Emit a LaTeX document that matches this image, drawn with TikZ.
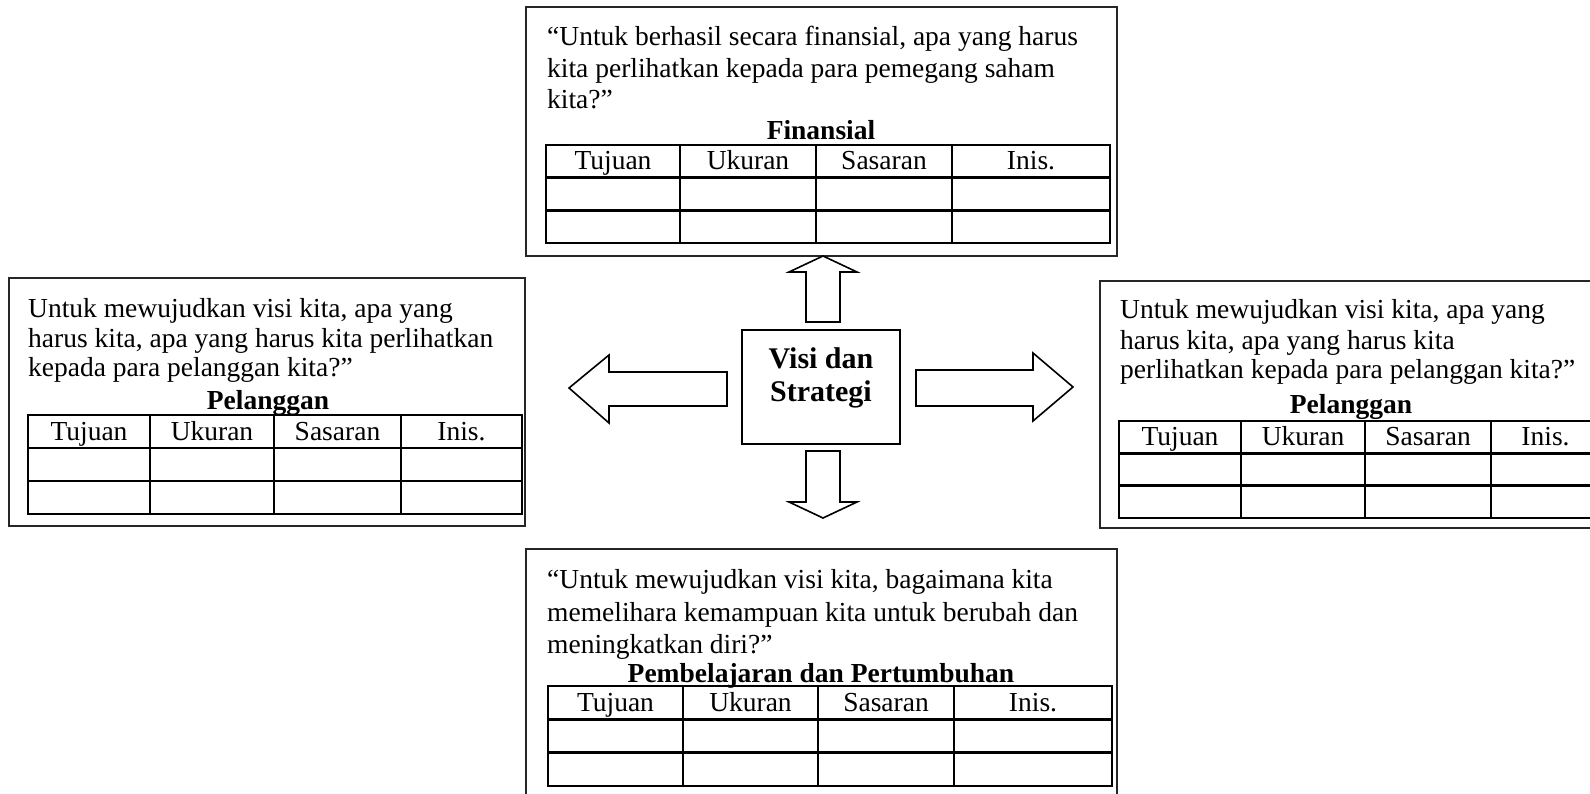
\documentclass[tikz,border=0pt]{standalone}
\usepackage{fontspec}
\setmainfont{Liberation Serif}
\begin{document}
\begin{tikzpicture}[x=1pt,y=-1pt,
  frame/.style={draw=black!85,line width=2pt},
  grid/.style={draw=black,line width=2.4pt},
  txt/.style={inner sep=0pt,anchor=base west,font=\fontsize{27.5}{32}\selectfont},
  ttl/.style={inner sep=0pt,anchor=base,font=\bfseries\fontsize{27.5}{32}\selectfont},
  cell/.style={inner sep=0pt,anchor=base,font=\fontsize{27.5}{32}\selectfont},
  blk/.style={draw=black,line width=1.6pt,fill=white,line join=miter}]
\useasboundingbox (0,0) rectangle (1590,794);

% table: prefix, left, col1, col2, col3, right, top, row height
\newcommand\mktable[8]{%
  \draw[grid] (#2,#7) rectangle (#6,{#7+3*#8});
  \draw[grid] (#2,{#7+#8}) -- (#6,{#7+#8}) (#2,{#7+2*#8}) -- (#6,{#7+2*#8});
  \draw[grid] (#3,#7) -- (#3,{#7+3*#8}) (#4,#7) -- (#4,{#7+3*#8}) (#5,#7) -- (#5,{#7+3*#8});
  \node[cell] (#1-t) at ({(#2+#3)/2},{#7+0.76*#8}) {Tujuan};
  \node[cell] (#1-u) at ({(#3+#4)/2},{#7+0.76*#8}) {Ukuran};
  \node[cell] (#1-s) at ({(#4+#5)/2},{#7+0.76*#8}) {Sasaran};
  \node[cell] (#1-i) at ({(#5+#6)/2},{#7+0.76*#8}) {Inis.};
}

% financial perspective (top)
\draw[frame] (526,7) rectangle (1117,256);
\node[txt] (fin1) at (547,46) {“Untuk berhasil secara finansial, apa yang harus};
\node[txt] (fin2) at (547,78) {kita perlihatkan kepada para pemegang saham};
\node[txt] (fin3) at (547,109) {kita?”};
\node[ttl] (finT) at (821,140) {Finansial};
\mktable{fin}{546}{680}{816}{952}{1110}{145}{32.7}

% customer perspective (left)
\draw[frame] (9,278) rectangle (525,526);
\node[txt] (cl1) at (28,318) {Untuk mewujudkan visi kita, apa yang};
\node[txt] (cl2) at (28,347) {harus kita, apa yang harus kita perlihatkan};
\node[txt] (cl3) at (28,376) {kepada para pelanggan kita?”};
\node[ttl] (clT) at (268,409) {Pelanggan};
\mktable{cl}{28}{150}{274}{401}{522}{415}{33}

% customer perspective (right)
\draw[frame] (1100,281) rectangle (1600,528);
\node[txt] (cr1) at (1120,319) {Untuk mewujudkan visi kita, apa yang};
\node[txt] (cr2) at (1120,349) {harus kita, apa yang harus kita};
\node[txt] (cr3) at (1120,378) {perlihatkan kepada para pelanggan kita?”};
\node[ttl] (crT) at (1351,413) {Pelanggan};
\mktable{cr}{1119}{1241}{1365}{1491}{1600}{421}{32.3}

% learning and growth perspective (bottom)
\draw[frame] (526,549) rectangle (1117,800);
\node[txt] (lg1) at (547,588) {“Untuk mewujudkan visi kita, bagaimana kita};
\node[txt] (lg2) at (547,621) {memelihara kemampuan kita untuk berubah dan};
\node[txt] (lg3) at (547,653) {meningkatkan diri?”};
\node[ttl] (lgT) at (821,682) {Pembelajaran dan Pertumbuhan};
\mktable{lg}{548}{683}{818}{954}{1112}{686}{33.3}

% vision and strategy
\draw[blk] (742,330) rectangle (900,444);
\node[ttl,font=\bfseries\fontsize{30}{34}\selectfont] (vs1) at (821,368) {Visi dan};
\node[ttl,font=\bfseries\fontsize{30}{34}\selectfont] (vs2) at (821,401) {Strategi};

% block arrows
\draw[blk] (806,322) -- (806,272) -- (789,272) -- (823,256) -- (857,272) -- (840,272) -- (840,322) -- cycle;
\draw[blk] (806,451) -- (806,502) -- (789,502) -- (823,518) -- (857,502) -- (840,502) -- (840,451) -- cycle;
\draw[blk] (727,372) -- (609,372) -- (609,355) -- (569,388) -- (609,423) -- (609,406) -- (727,406) -- cycle;
\draw[blk] (916,370) -- (1033,370) -- (1033,353) -- (1073,387) -- (1033,421) -- (1033,406) -- (916,406) -- cycle;
\end{tikzpicture}
\end{document}
